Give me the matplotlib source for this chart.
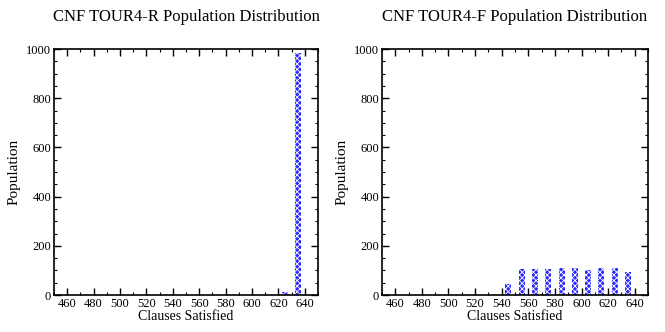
import matplotlib
matplotlib.use('Agg')
import matplotlib.pyplot as plt
from matplotlib.ticker import MultipleLocator

plt.rcParams['font.family'] = 'Liberation Serif'
plt.rcParams['hatch.linewidth'] = 0.6

# Clauses satisfied bins and population counts
bins = [545, 555, 565, 575, 585, 595, 605, 615, 625, 635]
pop_r = [0, 0, 0, 0, 0, 0, 0, 0, 12, 985]
pop_f = [45, 105, 105, 105, 108, 108, 100, 108, 108, 93]
titles = ['CNF TOUR4-R Population Distribution', 'CNF TOUR4-F Population Distribution']

fig = plt.figure(figsize=(6.65, 3.32), dpi=100)
axes = [fig.add_axes([54 / 665, 37 / 332, 264 / 665, 246 / 332]),
        fig.add_axes([382 / 665, 37 / 332, 266 / 665, 246 / 332])]

for ax, pop, title in zip(axes, [pop_r, pop_f], titles):
    vals = [(b, p) for b, p in zip(bins, pop) if p > 0]
    ax.bar([v[0] for v in vals], [v[1] for v in vals], width=4.5,
           color='#2a2aff', edgecolor='white', hatch='xxxxxx', linewidth=0)
    ax.set_xlim(450, 650)
    ax.set_ylim(0, 1000)
    ax.xaxis.set_major_locator(MultipleLocator(20))
    ax.xaxis.set_minor_locator(MultipleLocator(10))
    ax.yaxis.set_major_locator(MultipleLocator(200))
    ax.yaxis.set_minor_locator(MultipleLocator(50))
    ax.tick_params(which='both', direction='in', top=True, right=True,
                   labelsize=9, pad=2)
    ax.tick_params(which='major', length=5, width=1)
    ax.tick_params(which='minor', length=2.5, width=0.8)
    for s in ax.spines.values():
        s.set_linewidth(1.2)
    ax.set_xlabel('Clauses Satisfied', fontsize=10, labelpad=0)
    ax.set_ylabel('Population', fontsize=11, labelpad=4)
    ax.set_title(title, fontsize=12, pad=20)

fig.savefig('out.png', dpi=100)
